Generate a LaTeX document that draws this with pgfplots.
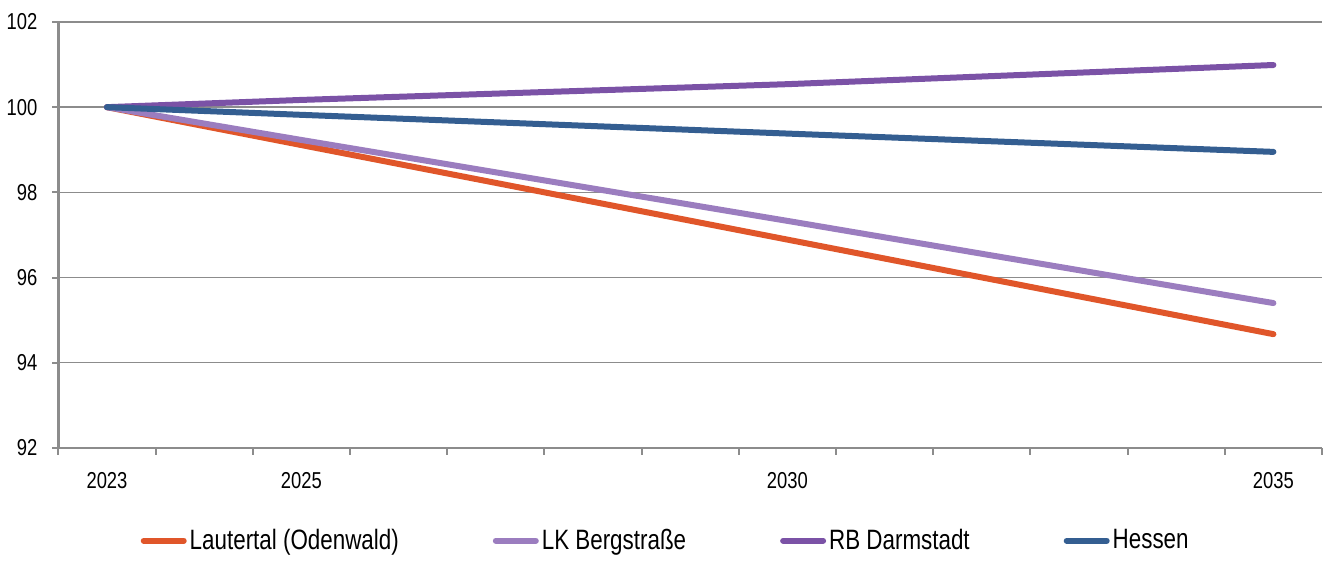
\documentclass[border=0pt]{standalone}
\usepackage{pgfplots}
\pgfplotsset{compat=1.18}
\usepackage{fontspec}
\setmainfont{Liberation Sans}[FakeStretch=0.8]

\definecolor{cOrange}{HTML}{E0562A}
\definecolor{cLav}{HTML}{9B7DBF}
\definecolor{cPurple}{HTML}{7B52A6}
\definecolor{cBlue}{HTML}{345E91}
\definecolor{cGrid}{HTML}{8C8C8C}

\begin{document}
\begin{tikzpicture}
\begin{axis}[
  at={(0,0)}, anchor=south west,
  scale only axis,
  width=632pt, height=213pt,
  xmin=2022.5, xmax=2035.5,
  ymin=92, ymax=102,
  ytick={92,94,...,102},
  xtick={2023,2025,2030,2035},
  minor xtick={2022.5,2023.5,...,2035.5},
  axis x line*=bottom, axis y line*=left,
  axis line style={-, cGrid, line width=1.2pt},
  tick align=outside,
  major tick length=3pt,
  minor tick length=3.5pt,
  major x tick style={draw=none},
  minor x tick style={draw=cGrid, line width=1pt},
  ytick style={cGrid, line width=1pt},
  ymajorgrids,
  grid style={cGrid, line width=0.8pt},
  /pgf/number format/assume math mode=true,
  /pgf/number format/1000 sep={},
  ticklabel style={font=\fontsize{11.5}{13}\selectfont},
  xticklabel style={yshift=-6pt},
  yticklabel style={xshift=-4pt},
  legend style={at={(axis description cs:0.481,-0.218)}, anchor=center,
    draw=none, fill=none, font=\fontsize{14}{16}\selectfont,
    legend columns=4, nodes={inner xsep=1.5pt}},
  /tikz/every even column/.append style={column sep=45.5pt},
  legend image code/.code={\draw[#1, line width=3pt, line cap=round] (0pt,0pt) -- (20pt,0pt);},
  every axis plot/.append style={line width=3pt, line cap=round, line join=round},
  clip=false,
]
\addplot[color=cOrange] coordinates {(2023,100) (2025,99.11) (2030,96.89) (2035,94.67)};
\addlegendentry{Lautertal (Odenwald)}
\addplot[color=cLav] coordinates {(2023,100) (2025,99.23) (2030,97.33) (2035,95.40)};
\addlegendentry{LK Bergstraße}
\addplot[color=cPurple] coordinates {(2023,100) (2025,100.17) (2030,100.54) (2035,100.99)};
\addlegendentry{RB Darmstadt}
\addplot[color=cBlue] coordinates {(2023,100) (2025,99.82) (2030,99.38) (2035,98.95)};
\addlegendentry{Hessen}
\end{axis}
\useasboundingbox (-29pt,-52pt) rectangle (637pt,224pt);
\end{tikzpicture}
\end{document}
